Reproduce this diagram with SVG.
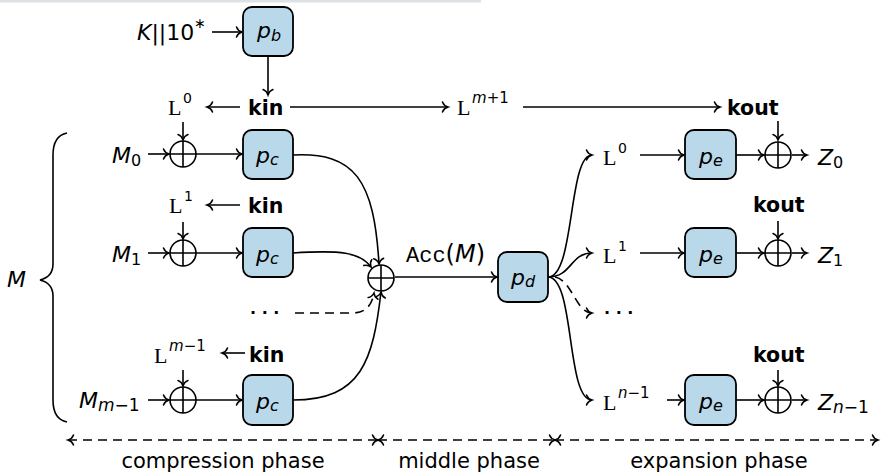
<svg xmlns="http://www.w3.org/2000/svg" width="883" height="472" viewBox="0 0 883 472">
<defs>
<marker id="ah" markerUnits="userSpaceOnUse" markerWidth="14" markerHeight="14" viewBox="-8 -7 10 14" refX="0" refY="0" orient="auto-start-reverse" overflow="visible">
<path d="M-5.5,-5 C-4.5,-2.2 -2,-0.6 0,0 C-2,0.6 -4.5,2.2 -5.5,5" fill="none" stroke="#000" stroke-width="1.5" stroke-linecap="round" stroke-dasharray="none"/>
</marker>
</defs>
<style>
.ln{fill:none;stroke:#000;stroke-width:1.6}
.a{marker-end:url(#ah)}
.aa{marker-start:url(#ah);marker-end:url(#ah)}
.d{stroke-dasharray:9 6}
.box{fill:#b9d8ea;stroke:#000;stroke-width:1.8}
.x{fill:none;stroke:#000;stroke-width:1.6}
text{font-family:"DejaVu Sans",sans-serif;font-size:22px;fill:#000}
.it{font-style:italic}
.tt{font-family:"Liberation Mono",monospace}
.L{font-family:"Liberation Serif",serif;font-size:22px}
.b{font-weight:bold;font-size:20.5px}
.sup{font-size:14px}
.sub{font-size:16px}
.lab{font-size:21px;text-anchor:middle}
</style>
<rect x="0" y="0" width="481" height="2.5" fill="#dde2e6"/>

<g id="connectors">
<path class="ln a" d="M212,32 H242"/>
<path class="ln a" d="M268,57 V95"/>
<path class="ln a" d="M240,107 H207"/>
<path class="ln a" d="M290,107 H448"/>
<path class="ln a" d="M523,107 H720"/>
<path class="ln a" d="M183,122 V140"/>
<path class="ln a" d="M183,222 V239"/>
<path class="ln a" d="M183,370 V386"/>
<path class="ln a" d="M148,154 H169"/>
<path class="ln a" d="M148,253 H169"/>
<path class="ln a" d="M148,400 H169"/>
<path class="ln a" d="M196,154 H242"/>
<path class="ln a" d="M196,253 H242"/>
<path class="ln a" d="M196,400 H242"/>
<path class="ln a" d="M240,205 H207"/>
<path class="ln a" d="M245,353 H222"/>
<path class="ln a" d="M293,155 C355,152 374,180 379,264"/>
<path class="ln a" d="M293,253 C340,250 360,252 371,267"/>
<path class="ln a" d="M293,400 C362,400 373,360 381,292"/>
<path class="ln a d" d="M295,313 H352 C366,313 372,305 374,293"/>
<path class="ln a" d="M395,277 H497"/>
<path class="ln a" d="M548,277 C575,277 568,155 592,155"/>
<path class="ln a" d="M548,277 C572,277 570,253 592,253"/>
<path class="ln a d" d="M555,277 C572,280 576,313 592,313"/>
<path class="ln a" d="M548,277 C575,277 566,400 592,400"/>
<path class="ln a" d="M640,155 H684"/>
<path class="ln a" d="M640,253 H684"/>
<path class="ln a" d="M667,400 H684"/>
<path class="ln a" d="M736,155 H764"/>
<path class="ln a" d="M736,253 H764"/>
<path class="ln a" d="M736,400 H764"/>
<path class="ln a" d="M792,155 H807"/>
<path class="ln a" d="M792,253 H807"/>
<path class="ln a" d="M792,400 H807"/>
<path class="ln a" d="M778,121 V140"/>
<path class="ln a" d="M778,221 V239"/>
<path class="ln a" d="M778,370 V386"/>
<path class="ln aa d" d="M68,440 H378"/>
<path class="ln aa d" d="M378,440 H555"/>
<path class="ln aa d" d="M555,440 H878"/>
<path class="ln" d="M67,133 C57,135 53,142 53,155 L53,264 C53,273 48,278 40,280 C48,282 53,287 53,296 L53,400 C53,413 57,420 67,422"/>
</g>

<g id="pb"><rect class="box" x="243" y="7" width="50" height="49" rx="9"/><text x="257" y="38"><tspan class="it">p</tspan><tspan class="it sub" y="41">b</tspan></text></g>
<g id="key"><text x="137" y="39.5"><tspan class="it">K</tspan>||10<tspan class="sup" y="28">∗</tspan></text></g>

<g id="L0top"><text class="L" x="168" y="115">L</text><text class="sup" x="183" y="103">0</text></g>
<g id="kin0"><text class="b" x="248" y="115">kin</text></g>
<g id="Lm1"><text class="L" x="457" y="115">L</text><text class="sup" x="472" y="103" style="font-size:15px"><tspan class="it">m</tspan>+1</text></g>
<g id="kouttop"><text class="b" x="727" y="115">kout</text></g>

<g id="M0"><text x="112" y="163"><tspan class="it">M</tspan><tspan class="sub" y="166">0</tspan></text></g>
<g id="xor0"><circle class="x" cx="183" cy="154" r="13"/><path class="x" d="M170,154 H196 M183,141 V167"/></g>
<g id="pc0"><rect class="box" x="243" y="130" width="50" height="49" rx="9"/><text x="256" y="163"><tspan class="it">p</tspan><tspan class="it sub" y="165">c</tspan></text></g>

<g id="L1"><text class="L" x="169" y="213">L</text><text class="sup" x="184" y="201">1</text></g>
<g id="kin1"><text class="b" x="248" y="213">kin</text></g>
<g id="M1"><text x="112" y="262"><tspan class="it">M</tspan><tspan class="sub" y="265">1</tspan></text></g>
<g id="xor1"><circle class="x" cx="183" cy="253" r="13"/><path class="x" d="M170,253 H196 M183,240 V266"/></g>
<g id="pc1"><rect class="box" x="243" y="228" width="50" height="49" rx="9"/><text x="256" y="262"><tspan class="it">p</tspan><tspan class="it sub" y="264">c</tspan></text></g>

<g id="dotsL"><text x="250" y="318" style="font-size:16px;font-weight:bold">· · ·</text></g>

<g id="Lmm1"><text class="L" x="154" y="363">L</text><text class="sup" x="169" y="351" style="font-size:15px"><tspan class="it">m</tspan>−1</text></g>
<g id="kinm"><text class="b" x="249" y="362">kin</text></g>
<g id="Mm1"><text x="79" y="408"><tspan class="it">M</tspan><tspan class="sub" y="411" style="font-size:17px"><tspan class="it">m</tspan>−1</tspan></text></g>
<g id="xorm"><circle class="x" cx="183" cy="400" r="13"/><path class="x" d="M170,400 H196 M183,387 V413"/></g>
<g id="pcm"><rect class="box" x="243" y="375" width="50" height="50" rx="9"/><text x="256" y="409"><tspan class="it">p</tspan><tspan class="it sub" y="411">c</tspan></text></g>

<g id="xorC"><circle class="x" cx="381" cy="278" r="13"/><path class="x" d="M368,278 H394 M381,265 V291"/></g>
<g id="acc"><text x="406" y="262"><tspan class="tt">Acc</tspan><tspan style="font-size:24px">(<tspan class="it">M</tspan>)</tspan></text></g>
<g id="pd"><rect class="box" x="498" y="252" width="50" height="50" rx="9"/><text x="511" y="285"><tspan class="it">p</tspan><tspan class="it sub" y="287">d</tspan></text></g>

<g id="L0r"><text class="L" x="603" y="165">L</text><text class="sup" x="618" y="153">0</text></g>
<g id="pe0"><rect class="box" x="685" y="130" width="51" height="49" rx="9"/><text x="699" y="164"><tspan class="it">p</tspan><tspan class="it sub" y="166">e</tspan></text></g>
<g id="xore0"><circle class="x" cx="778" cy="155" r="13"/><path class="x" d="M765,155 H791 M778,142 V168"/></g>
<g id="Z0"><text x="818" y="165"><tspan class="it">Z</tspan><tspan class="sub" y="168">0</tspan></text></g>

<g id="kout1"><text class="b" x="753" y="212">kout</text></g>
<g id="L1r"><text class="L" x="603" y="263">L</text><text class="sup" x="618" y="251">1</text></g>
<g id="pe1"><rect class="box" x="685" y="228" width="51" height="49" rx="9"/><text x="699" y="262"><tspan class="it">p</tspan><tspan class="it sub" y="264">e</tspan></text></g>
<g id="xore1"><circle class="x" cx="778" cy="253" r="13"/><path class="x" d="M765,253 H791 M778,240 V266"/></g>
<g id="Z1"><text x="818" y="263"><tspan class="it">Z</tspan><tspan class="sub" y="266">1</tspan></text></g>

<g id="dotsR"><text x="604" y="318" style="font-size:16px;font-weight:bold">· · ·</text></g>

<g id="koutn"><text class="b" x="753" y="362">kout</text></g>
<g id="Lnr"><text class="L" x="603" y="410">L</text><text class="sup" x="618" y="398" style="font-size:15px"><tspan class="it">n</tspan>−1</text></g>
<g id="pen"><rect class="box" x="685" y="375" width="51" height="50" rx="9"/><text x="699" y="409"><tspan class="it">p</tspan><tspan class="it sub" y="411">e</tspan></text></g>
<g id="xoren"><circle class="x" cx="778" cy="400" r="13"/><path class="x" d="M765,400 H791 M778,387 V413"/></g>
<g id="Zn"><text x="818" y="410"><tspan class="it">Z</tspan><tspan class="sub" y="413" style="font-size:17px"><tspan class="it">n</tspan>−1</tspan></text></g>

<g id="M"><text class="it" x="7" y="287">M</text></g>

<g id="phases">
<text class="lab" x="223" y="468">compression phase</text>
<text class="lab" x="469" y="468">middle phase</text>
<text class="lab" x="719" y="468">expansion phase</text>
</g>
</svg>
